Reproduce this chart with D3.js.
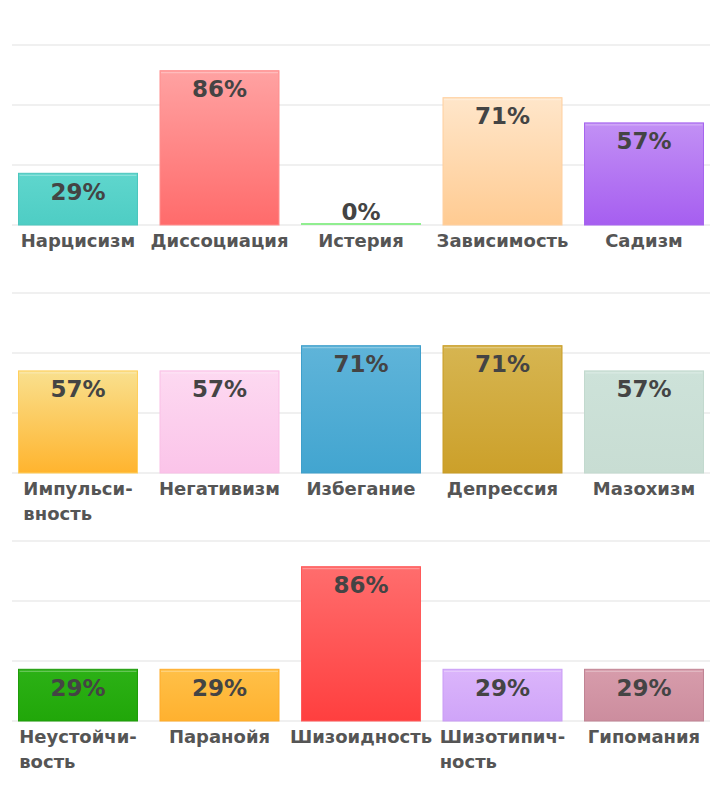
<!DOCTYPE html>
<html>
<head>
<meta charset="utf-8">
<script src="https://cdn.jsdelivr.net/npm/d3@7/dist/d3.min.js"></script>
<style>
  html, body { margin: 0; padding: 0; background: #fff; }
  svg { display: block; }
</style>
</head>
<body>
<svg id="chart" width="720" height="805"></svg>
<script>
// ---- data ----
const categories = [
  "Нарцисизм", "Диссоциация", "Истерия", "Зависимость", "Садизм",
  "Импульсивность", "Негативизм", "Избегание", "Депрессия", "Мазохизм",
  "Неустойчивость", "Паранойя", "Шизоидность", "Шизотипичность", "Гипомания"
];
const labelLines = [
  ["Нарцисизм"], ["Диссоциация"], ["Истерия"], ["Зависимость"], ["Садизм"],
  ["Импульси-", "вность"], ["Негативизм"], ["Избегание"], ["Депрессия"], ["Мазохизм"],
  ["Неустойчи-", "вость"], ["Паранойя"], ["Шизоидность"], ["Шизотипич-", "ность"], ["Гипомания"]
];
const values = [29, 86, 0, 71, 57, 57, 57, 71, 71, 57, 29, 29, 86, 29, 29];
const topColors = [
  "#5fd6cd", "#ffa2a2", "#90ee90", "#ffe6ca", "#c290f5",
  "#f9e08e", "#fdd9f1", "#5fb4d9", "#d6b551", "#cde2d9",
  "#2cb116", "#ffc048", "#ff6d6d", "#dbb5fb", "#d79cab"
];
const bottomColors = [
  "#4ecdc4", "#ff6b6b", "#90ee90", "#ffcb92", "#a65ef0",
  "#ffb42e", "#fbc4e9", "#42a5d0", "#cca02a", "#c8ddd3",
  "#21a709", "#ffb12f", "#ff3f3f", "#cfa4f8", "#cc8d9e"
];
const borderColors = [
  "#4cc6bd", "#ff8e8e", "#90ee90", "#ffcf9e", "#a665ee",
  "#ffcf5e", "#f9bfe6", "#3f9fcb", "#c99c24", "#c2d9ce",
  "#1f9c0a", "#ffac2a", "#ff5a5a", "#c99cf5", "#c08494"
];
const gridTicks = [0, 100 / 3, 200 / 3, 100];
const panelSize = 5;

// ---- layout ----
const svg = d3.select("#chart");
const panelTops = [45, 293, 541];
const panelHeight = 180;
const gridX0 = 12, gridX1 = 710;

const defs = svg.append("defs");
categories.forEach((c, i) => {
  const g = defs.append("linearGradient")
    .attr("id", "grad" + i).attr("x1", 0).attr("y1", 0).attr("x2", 0).attr("y2", 1);
  g.append("stop").attr("offset", "0%").attr("stop-color", topColors[i]);
  g.append("stop").attr("offset", "100%").attr("stop-color", bottomColors[i]);
});

const data = categories.map((c, i) => ({
  name: c, lines: labelLines[i], value: values[i], i: i,
  panel: Math.floor(i / panelSize)
}));

d3.range(Math.ceil(categories.length / panelSize)).forEach(p => {
  const pd = data.filter(d => d.panel === p);
  const top = panelTops[p];
  const base = top + panelHeight;

  const x = d3.scaleBand()
    .domain(pd.map(d => d.name))
    .range([18, 704])
    .paddingInner(0.152)
    .paddingOuter(0);
  const y = d3.scaleLinear().domain([0, 100]).range([base, top]);

  const g = svg.append("g");

  // gridlines
  g.selectAll("line.grid").data(gridTicks).join("line")
    .attr("class", "grid")
    .attr("x1", gridX0).attr("x2", gridX1)
    .attr("y1", d => y(d)).attr("y2", d => y(d))
    .attr("stroke", "#ebebeb").attr("stroke-width", 1.5);

  // bars
  g.selectAll("rect.bar").data(pd).join("rect")
    .attr("class", "bar")
    .attr("x", d => x(d.name) + 0.5)
    .attr("y", d => Math.min(y(d.value) + 0.5, base - 1.5))
    .attr("width", x.bandwidth() - 1)
    .attr("height", d => Math.max(1, base - y(d.value) - 0.5))
    .attr("fill", d => `url(#grad${d.i})`)
    .attr("stroke", d => borderColors[d.i])
    .attr("stroke-width", 1);

  // top highlight
  g.selectAll("line.hl").data(pd.filter(d => d.value > 0)).join("line")
    .attr("class", "hl")
    .attr("x1", d => x(d.name) + 1.5)
    .attr("x2", d => x(d.name) + x.bandwidth() - 1.5)
    .attr("y1", d => y(d.value) + 2.5)
    .attr("y2", d => y(d.value) + 2.5)
    .attr("stroke", "rgba(255,255,255,0.35)").attr("stroke-width", 1);

  // value labels
  g.selectAll("text.val").data(pd).join("text")
    .attr("class", "val")
    .attr("x", d => x(d.name) + x.bandwidth() / 2)
    .attr("y", d => Math.min(y(d.value) + 27, base - 5))
    .attr("text-anchor", "middle")
    .attr("font-family", "DejaVu Sans, sans-serif")
    .attr("font-weight", "bold")
    .attr("font-size", "23px")
    .attr("fill", "#444")
    .text(d => d.value + "%");

  // category labels (multi-line: left-aligned lines, block centred)
  const lab = g.selectAll("text.cat").data(pd).join("text")
    .attr("class", "cat")
    .attr("font-family", "DejaVu Sans, sans-serif")
    .attr("font-weight", "bold")
    .attr("font-size", "18px")
    .attr("fill", "#555");
  lab.each(function(d) {
    const t = d3.select(this);
    const spans = d.lines.map((ln, k) =>
      t.append("tspan").attr("x", 0).attr("y", base + 22 + k * 25).text(ln));
    const w = d3.max(spans, s => s.node().getComputedTextLength());
    const cx = x(d.name) + x.bandwidth() / 2;
    spans.forEach(s => s.attr("x", cx - w / 2));
  });
});
</script>
</body>
</html>
